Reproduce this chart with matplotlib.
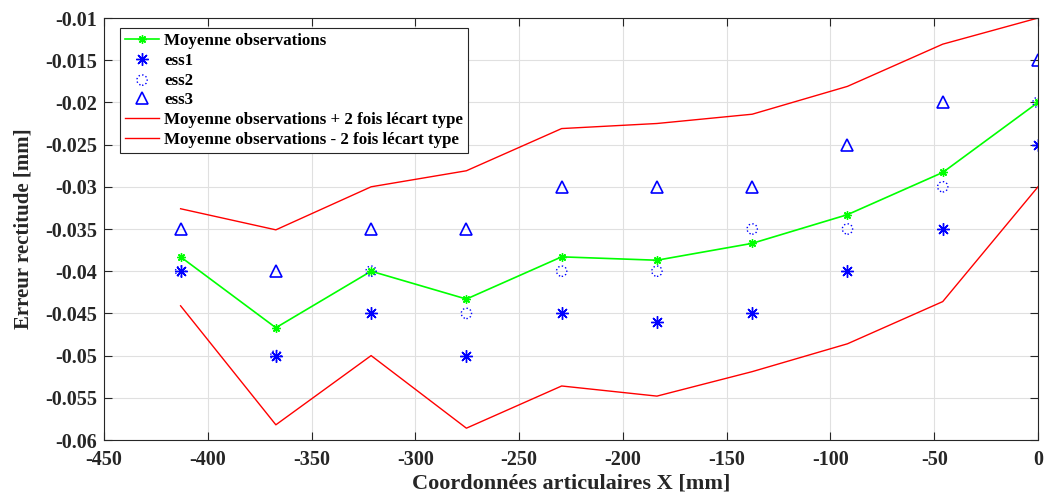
import matplotlib
matplotlib.use('Agg')
import matplotlib.pyplot as plt
import numpy as np

plt.rcParams['font.family'] = 'serif'
plt.rcParams['font.serif'] = ['Liberation Serif', 'DejaVu Serif']
plt.rcParams['font.weight'] = 'bold'

# positions articulaires [mm]
x_pos = [-413.1, -367.2, -321.3, -275.4, -229.5, -183.6, -137.7, -91.8, -45.9, 0.0]

# essais [mm]
ess1 = [-0.040, -0.050, -0.045, -0.050, -0.045, -0.046, -0.045, -0.040, -0.035, -0.025]
ess2 = [-0.040, -0.050, -0.040, -0.045, -0.040, -0.040, -0.035, -0.035, -0.030, -0.020]
ess3 = [-0.035, -0.040, -0.035, -0.035, -0.030, -0.030, -0.030, -0.025, -0.020, -0.015]

# moyenne et bornes
moyenne = [-0.0383, -0.0467, -0.0400, -0.0433, -0.0383, -0.0387, -0.0367, -0.0333, -0.0283, -0.0200]
borne_sup = [-0.0326, -0.0351, -0.0300, -0.0281, -0.0231, -0.0225, -0.0214, -0.0181, -0.0131, -0.0100]
borne_inf = [-0.0441, -0.0582, -0.0500, -0.0586, -0.0536, -0.0548, -0.0519, -0.0486, -0.0436, -0.0300]

xticks = np.arange(-450, 1, 50)
yticks = np.round(np.arange(-0.06, -0.0099, 0.005), 3)

W, H = 1046, 498
fig = plt.figure(figsize=(W/100, H/100), dpi=100)
ax = fig.add_axes([104/W, 1-440/H, (1038-104)/W, (440-18)/H])

blue = (0, 0, 1)
ax.plot(x_pos, moyenne, '-', color=(0, 1, 0), lw=1.2, marker=(8, 2, 0), ms=6,
        mew=1.0, label='Moyenne observations')
ax.plot(x_pos, ess1, ls='none', marker=(8, 2, 0), ms=9, mew=1.0, color=blue, label='ess1')
ax.scatter(x_pos, ess2, marker='o', s=55, facecolors='none', edgecolors=blue,
           linewidths=1.0, linestyles=':', label='ess2', zorder=3)
ax.plot(x_pos, ess3, ls='none', marker='^', ms=9, mew=1.2, mfc='none', color=blue, label='ess3')
ax.plot(x_pos, borne_sup, '-', color=(1, 0, 0), lw=1.0,
        label='Moyenne observations + 2 fois lécart type')
ax.plot(x_pos, borne_inf, '-', color=(1, 0, 0), lw=1.0,
        label='Moyenne observations - 2 fois lécart type')

ax.set_xlim(-450, 0)
ax.set_ylim(-0.06, -0.01)
ax.set_xticks(xticks)
ax.set_yticks(yticks)
ax.set_xticklabels([f"{v:g}" for v in xticks])
ax.set_yticklabels([f"{v:g}" for v in yticks])
ax.tick_params(direction='in', length=6, width=0.8, top=True, right=True,
               labelsize=14.5, colors='#262626')
ax.tick_params(axis='x', pad=7)
ax.tick_params(axis='y', pad=5)
ax.grid(True, color='#e0e0e0', lw=0.8)
ax.set_axisbelow(True)
for s in ax.spines.values():
  s.set_color('#262626')
  s.set_linewidth(0.8)

ax.set_xlabel('Coordonnées articulaires X [mm]', fontsize=16, fontweight='bold',
              color='#262626', labelpad=3)
ax.set_ylabel('Erreur rectitude [mm]', fontsize=15, fontweight='bold',
              color='#262626', labelpad=8)

leg = ax.legend(loc='upper left', bbox_to_anchor=(120/W, 1-28/H), bbox_transform=fig.transFigure,
                borderaxespad=0, fontsize=12.2, fancybox=False, framealpha=1,
                edgecolor='#262626', labelspacing=0.22, handlelength=2.0, handletextpad=0.3,
                borderpad=0.3)
leg.get_frame().set_linewidth(0.8)

fig.savefig('out.png', dpi=100)
